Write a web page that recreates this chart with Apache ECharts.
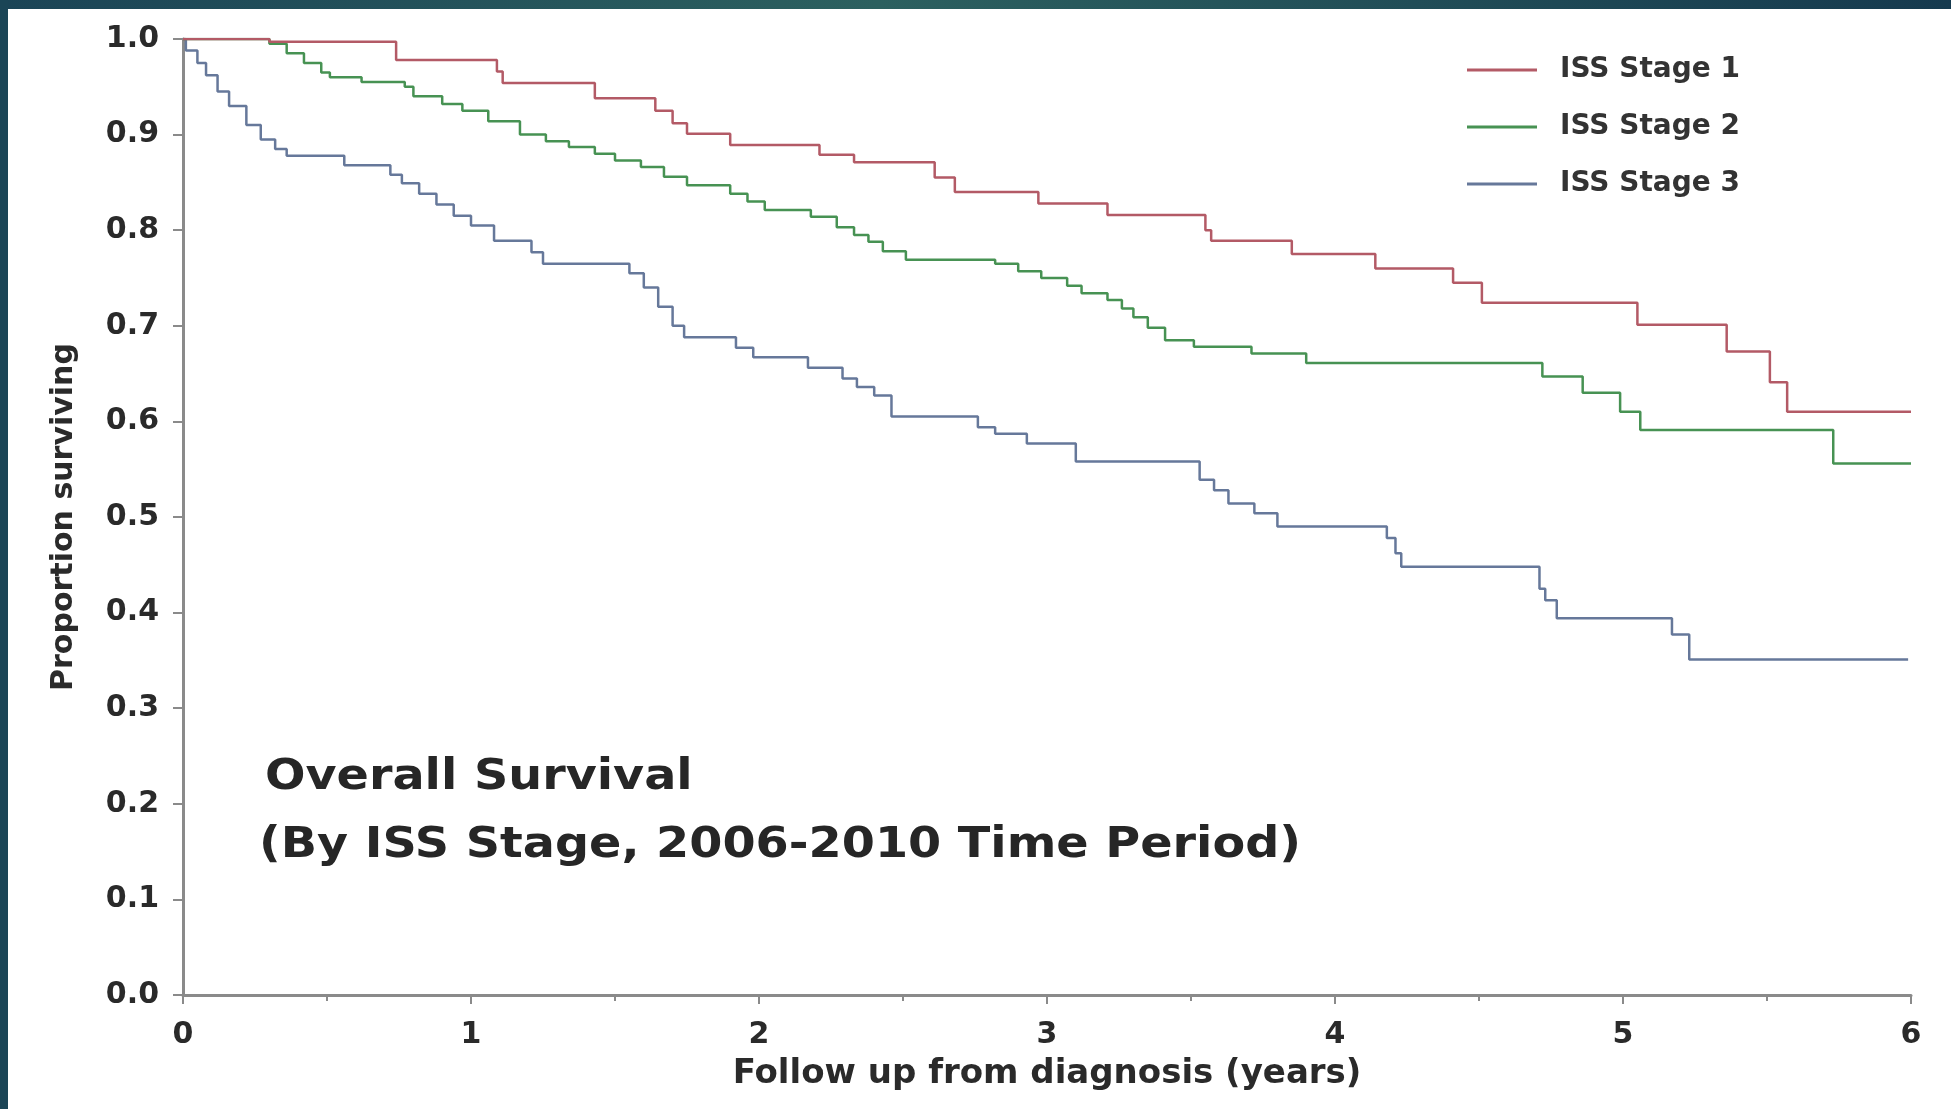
<!DOCTYPE html>
<html>
<head>
<meta charset="utf-8">
<title>Overall Survival by ISS Stage</title>
<script src="https://cdn.jsdelivr.net/npm/echarts@6/dist/echarts.min.js"></script>
<style>
  html, body { margin: 0; padding: 0; background: #fff; }
  #chart { width: 1951px; height: 1109px; }
</style>
</head>
<body>
<div id="chart"></div>
<script>
// Kaplan-Meier step points: time (years) and survival after the step
var stage1Times = [0, 0.30, 0.74, 1.09, 1.11, 1.43, 1.64, 1.70, 1.75, 1.90, 2.21, 2.33, 2.61, 2.68, 2.97, 3.21, 3.55, 3.57, 3.85, 4.14, 4.41, 4.51, 5.05, 5.36, 5.51, 5.57, 6.0];
var stage1Surv  = [1.0, 0.997, 0.978, 0.966, 0.954, 0.938, 0.925, 0.912, 0.901, 0.889, 0.879, 0.871, 0.855, 0.840, 0.828, 0.816, 0.800, 0.789, 0.775, 0.760, 0.745, 0.724, 0.701, 0.673, 0.641, 0.610, 0.610];

var stage2Times = [0, 0.30, 0.36, 0.42, 0.48, 0.51, 0.62, 0.77, 0.80, 0.90, 0.97, 1.06, 1.17, 1.26, 1.34, 1.43, 1.50, 1.59, 1.67, 1.75, 1.90, 1.96, 2.02, 2.18, 2.27, 2.33, 2.38, 2.43, 2.51, 2.82, 2.90, 2.98, 3.07, 3.12, 3.21, 3.26, 3.30, 3.35, 3.41, 3.51, 3.71, 3.90, 4.72, 4.86, 4.99, 5.06, 5.73, 6.0];
var stage2Surv  = [1.0, 0.995, 0.985, 0.975, 0.965, 0.960, 0.955, 0.950, 0.940, 0.932, 0.925, 0.914, 0.900, 0.893, 0.887, 0.880, 0.873, 0.866, 0.856, 0.847, 0.838, 0.830, 0.821, 0.814, 0.803, 0.795, 0.788, 0.778, 0.769, 0.765, 0.757, 0.750, 0.742, 0.734, 0.727, 0.718, 0.709, 0.698, 0.685, 0.678, 0.671, 0.661, 0.647, 0.630, 0.610, 0.591, 0.556, 0.556];

var stage3Times = [0, 0.01, 0.05, 0.08, 0.12, 0.16, 0.22, 0.27, 0.32, 0.36, 0.56, 0.72, 0.76, 0.82, 0.88, 0.94, 1.00, 1.08, 1.21, 1.25, 1.55, 1.60, 1.65, 1.70, 1.74, 1.92, 1.98, 2.17, 2.29, 2.34, 2.40, 2.46, 2.76, 2.82, 2.93, 3.10, 3.53, 3.58, 3.63, 3.72, 3.80, 4.18, 4.21, 4.23, 4.71, 4.73, 4.77, 5.17, 5.23, 5.99];
var stage3Surv  = [1.0, 0.988, 0.975, 0.962, 0.945, 0.930, 0.910, 0.895, 0.885, 0.878, 0.868, 0.858, 0.849, 0.838, 0.827, 0.815, 0.805, 0.789, 0.777, 0.765, 0.755, 0.740, 0.720, 0.700, 0.688, 0.677, 0.667, 0.656, 0.645, 0.636, 0.627, 0.605, 0.594, 0.587, 0.577, 0.558, 0.539, 0.528, 0.514, 0.504, 0.490, 0.478, 0.462, 0.448, 0.425, 0.413, 0.394, 0.377, 0.351, 0.351];

var seriesNames = ['ISS Stage 1', 'ISS Stage 2', 'ISS Stage 3'];
var seriesColors = ['#b35a66', '#479253', '#66789a'];

var xTicks = [0, 1, 2, 3, 4, 5, 6];
var yTicks = [0.0, 0.1, 0.2, 0.3, 0.4, 0.5, 0.6, 0.7, 0.8, 0.9, 1.0];

var titleLines = ['Overall Survival', '(By ISS Stage, 2006-2010 Time Period)'];

function pairs(times, surv) {
  var out = [];
  for (var i = 0; i < times.length; i++) out.push([times[i], surv[i]]);
  return out;
}

var allData = [pairs(stage1Times, stage1Surv), pairs(stage2Times, stage2Surv), pairs(stage3Times, stage3Surv)];

var chart = echarts.init(document.getElementById('chart'));

var axisGray = '#8a8a8a';
var labelFont = {
  color: '#2a2a2a',
  fontFamily: 'DejaVu Sans',
  fontWeight: 'bold',
  fontSize: 30
};

// the source picture is a horizontally stretched thumbnail, so the caption is stretched too
function captionText(text, x, y) {
  return {
    type: 'text',
    x: x,
    y: y,
    scaleX: 1.135,
    silent: true,
    z: 10,
    style: {
      text: text,
      fill: '#262626',
      fontFamily: 'DejaVu Sans',
      fontWeight: 'bold',
      fontSize: 42,
      align: 'left',
      verticalAlign: 'top'
    }
  };
}

var option = {
  backgroundColor: '#ffffff',
  animation: false,
  legend: {
    orient: 'vertical',
    left: 1462,
    top: 50,
    itemWidth: 70,
    itemHeight: 3,
    itemGap: 27,
    icon: 'rect',
    data: seriesNames,
    textStyle: {
      color: '#333',
      fontFamily: 'DejaVu Sans',
      fontWeight: 'bold',
      fontSize: 28,
      lineHeight: 30,
      padding: [0, 0, 0, 18]
    }
  },
  grid: {
    left: 183,
    right: 40,
    top: 39,
    bottom: 114,
    containLabel: false
  },
  xAxis: {
    type: 'value',
    min: 0,
    max: 6,
    interval: 1,
    name: 'Follow up from diagnosis (years)',
    nameLocation: 'middle',
    nameGap: 62,
    nameTextStyle: { color: '#2a2a2a', fontFamily: 'DejaVu Sans', fontWeight: 'bold', fontSize: 34 },
    axisLine: { show: true, onZero: false, lineStyle: { color: axisGray, width: 3 } },
    axisTick: { show: true, inside: false, length: 9, lineStyle: { color: axisGray, width: 2 } },
    minorTick: { show: true, splitNumber: 2, length: 6, lineStyle: { color: axisGray, width: 2 } },
    axisLabel: Object.assign({
      margin: 25,
      formatter: function (v) { return xTicks.indexOf(v) >= 0 ? String(v) : ''; }
    }, labelFont),
    splitLine: { show: false }
  },
  yAxis: {
    type: 'value',
    min: 0,
    max: 1,
    interval: 0.1,
    name: 'Proportion surviving',
    nameLocation: 'middle',
    nameGap: 104,
    nameTextStyle: { color: '#2a2a2a', fontFamily: 'DejaVu Sans', fontWeight: 'bold', fontSize: 30 },
    axisLine: { show: true, lineStyle: { color: axisGray, width: 3 } },
    axisTick: { show: true, inside: false, length: 10, lineStyle: { color: axisGray, width: 2 } },
    axisLabel: Object.assign({
      margin: 24,
      formatter: function (v) {
        var r = Math.round(v * 10) / 10;
        return yTicks.indexOf(r) >= 0 ? r.toFixed(1) : '';
      }
    }, labelFont),
    splitLine: { show: false }
  },
  series: seriesNames.map(function (name, i) {
    return {
      name: name,
      type: 'line',
      step: 'end',
      symbol: 'none',
      data: allData[i],
      lineStyle: { color: seriesColors[i], width: 2.5 },
      itemStyle: { color: seriesColors[i] },
      z: 3 - i
    };
  }),
  graphic: [
    captionText(titleLines[0], 265, 757),
    captionText(titleLines[1], 259, 825),
    {
      type: 'rect',
      shape: { x: 0, y: 0, width: 1951, height: 9 },
      style: {
        fill: {
          type: 'linear', x: 0, y: 0, x2: 1, y2: 0,
          colorStops: [
            { offset: 0, color: '#1b4456' },
            { offset: 0.45, color: '#2c605f' },
            { offset: 1, color: '#163a4f' }
          ]
        }
      },
      silent: true
    },
    {
      type: 'rect',
      shape: { x: 0, y: 0, width: 8, height: 1109 },
      style: { fill: '#1b4556' },
      silent: true
    }
  ]
};

chart.setOption(option);
</script>
</body>
</html>
